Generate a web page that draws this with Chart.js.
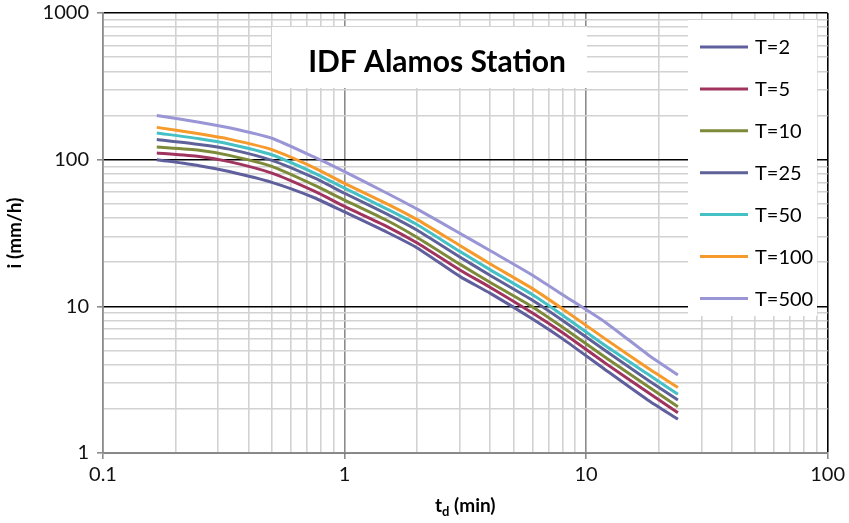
<!DOCTYPE html>
<html>
<head>
<meta charset="utf-8">
<title>IDF Alamos Station</title>
<script src="https://cdn.jsdelivr.net/npm/chart.js@4/dist/chart.umd.min.js"></script>
<style>
  html, body { margin: 0; padding: 0; background: #fff; }
  canvas { display: block; }
</style>
</head>
<body>
<canvas id="idfChart" width="849" height="523"></canvas>
<script>
// durations (same x for every return period)
const durations = [0.167, 0.25, 0.333, 0.5, 0.75, 1, 1.5, 2, 3, 4, 6, 8, 12, 18, 24];

// intensities, mm/h
const t2   = [100, 91, 83, 70, 55, 44, 32, 25, 16, 12.3, 8.2, 6.0, 3.7, 2.3, 1.7];
const t5   = [111, 105, 97, 81, 61, 48, 35, 27, 17.7, 13.5, 9.0, 6.6, 4.1, 2.6, 1.88];
const t10  = [122, 116, 107, 90, 67, 53, 38.5, 29.5, 19.4, 14.6, 9.9, 7.2, 4.5, 2.85, 2.07];
const t25  = [137, 127, 118, 99, 75, 59, 42.5, 33, 21.7, 16.3, 11.0, 8.0, 5.0, 3.15, 2.3];
const t50  = [152, 139, 128, 108, 81, 64, 46, 36, 23.7, 17.8, 12.0, 8.7, 5.4, 3.45, 2.52];
const t100 = [166, 150, 138, 117, 88, 69, 50, 39, 26, 19.5, 13.2, 9.6, 6.0, 3.8, 2.8];
const t500 = [200, 180, 165, 140, 104, 83, 59, 46, 31.5, 24, 16.3, 12, 7.8, 4.7, 3.4];

const seriesNames = ["T=2", "T=5", "T=10", "T=25", "T=50", "T=100", "T=500"];
const seriesData = [t2, t5, t10, t25, t50, t100, t500];
const seriesColors = ["#5f5f9d", "#a0345f", "#7d8a3a", "#5f6199", "#45c0c4", "#f79a2c", "#9a96d6"];

const xTickValues = decadeTicks(0.1, 100);
const yTickValues = decadeTicks(1, 1000);

function decadeTicks(min, max) {
    const out = [];
    for (let e = Math.round(Math.log10(min)); e < Math.round(Math.log10(max)); e++) {
        for (let k = 1; k <= 9; k++) {
            out.push(Number((k * Math.pow(10, e)).toPrecision(6)));
        }
    }
    out.push(max);
    return out;
}

function isMajor(v) {
    const l = Math.log10(v);
    return Math.abs(l - Math.round(l)) < 1e-9;
}

const FONT = "Lato";

const overlayPlugin = {
    id: "overlay",
    beforeDatasetsDraw(chart) {
        const ctx = chart.ctx;
        ctx.save();
        // white boxes behind the title and the legend
        ctx.fillStyle = "#fff";
        ctx.fillRect(272, 27, 315, 61);
        ctx.fillRect(688, 20, 129, 296);

        // chart title
        ctx.fillStyle = "#000";
        ctx.textBaseline = "alphabetic";
        ctx.textAlign = "center";
        ctx.font = "bold 30px " + FONT;
        ctx.fillText("IDF Alamos Station", 437, 72);

        // legend
        ctx.textAlign = "left";
        ctx.textBaseline = "middle";
        ctx.font = "20px " + FONT;
        chart.data.datasets.forEach((ds, i) => {
            const y = 47 + i * 41.9;
            ctx.strokeStyle = ds.borderColor;
            ctx.lineWidth = 3;
            ctx.beginPath();
            ctx.moveTo(700, y);
            ctx.lineTo(748, y);
            ctx.stroke();
            ctx.fillStyle = "#000";
            ctx.fillText(ds.label, 755, y + 1);
        });
        ctx.restore();
    },
    afterDraw(chart) {
        // x axis title with subscript
        const ctx = chart.ctx;
        const area = chart.chartArea;
        ctx.save();
        ctx.fillStyle = "#000";
        ctx.textBaseline = "alphabetic";
        ctx.textAlign = "left";
        const big = "bold 19px " + FONT;
        const small = "bold 13px " + FONT;
        ctx.font = big;
        const w1 = ctx.measureText("t").width;
        const w3 = ctx.measureText(" (min)").width;
        ctx.font = small;
        const w2 = ctx.measureText("d").width;
        let x = (area.left + area.right) / 2 - (w1 + w2 + w3) / 2;
        const base = 512;
        ctx.font = big;
        ctx.fillText("t", x, base);
        x += w1;
        ctx.font = small;
        ctx.fillText("d", x, base + 4);
        x += w2;
        ctx.font = big;
        ctx.fillText(" (min)", x, base);
        ctx.restore();
    }
};

const datasets = seriesData.map((vals, i) => ({
    label: seriesNames[i],
    data: durations.map((d, j) => ({ x: d, y: vals[j] })),
    borderColor: seriesColors[i],
    backgroundColor: seriesColors[i],
    borderWidth: 3,
    pointRadius: 0,
    tension: 0.2,
    fill: false
}));

const ctx = document.getElementById("idfChart").getContext("2d");
const idfChart = new Chart(ctx, {
    type: "line",
    data: { datasets: datasets },
    plugins: [overlayPlugin],
    options: {
        responsive: false,
        animation: false,
        devicePixelRatio: 1,
        layout: { padding: { top: 0, right: 19, left: 0, bottom: 0 } },
        plugins: {
            legend: { display: false },
            tooltip: { enabled: false }
        },
        scales: {
            x: {
                type: "logarithmic",
                min: 0.1,
                max: 100,
                afterBuildTicks: (axis) => { axis.ticks = xTickValues.map((v) => ({ value: v })); },
                afterFit: (axis) => { axis.height = 70; },
                ticks: {
                    autoSkip: false,
                    maxRotation: 0,
                    padding: 4,
                    color: "#111",
                    font: { family: FONT, size: 20 },
                    callback: (v) => (isMajor(v) ? String(v) : "")
                },
                grid: {
                    color: (c) => {
                        const v = c.tick.value;
                        if (v === 100) return "#000";
                        return isMajor(v) ? "#8c8c8c" : "#d2d2d2";
                    },
                    lineWidth: 1.6,
                    tickLength: 6,
                    tickColor: (c) => (isMajor(c.tick.value) ? "#8c8c8c" : "rgba(0,0,0,0)")
                },
                border: { color: "#8c8c8c", width: 1.6 }
            },
            y: {
                type: "logarithmic",
                min: 1,
                max: 1000,
                afterBuildTicks: (axis) => { axis.ticks = yTickValues.map((v) => ({ value: v })); },
                afterFit: (axis) => {
                    axis.width = 103;
                    axis.paddingTop = 13;
                    axis.paddingBottom = 0;
                },
                ticks: {
                    autoSkip: false,
                    padding: 8,
                    color: "#111",
                    font: { family: FONT, size: 20 },
                    callback: (v) => (isMajor(v) ? String(v) : "")
                },
                grid: {
                    color: (c) => (isMajor(c.tick.value) ? "#000" : "#d2d2d2"),
                    lineWidth: 1.6,
                    tickLength: 6,
                    tickColor: (c) => (isMajor(c.tick.value) ? "#8c8c8c" : "rgba(0,0,0,0)")
                },
                border: { color: "#8c8c8c", width: 1.6 },
                title: {
                    display: true,
                    text: "i (mm/h)",
                    color: "#000",
                    font: { family: FONT, size: 19, weight: "bold" },
                    padding: { top: 3, bottom: 0 }
                }
            }
        }
    }
});
</script>
</body>
</html>
